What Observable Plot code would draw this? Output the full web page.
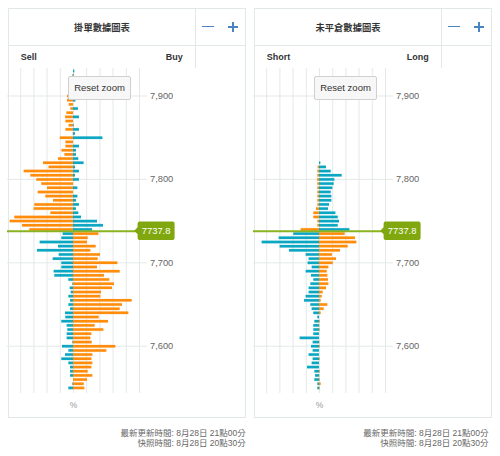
<!DOCTYPE html>
<html><head><meta charset="utf-8">
<script src="https://cdn.jsdelivr.net/npm/d3@7"></script>
<script src="https://cdn.jsdelivr.net/npm/@observablehq/plot@0.6"></script>
<style>
body{margin:0;width:500px;height:456px;background:#fff;position:relative;overflow:hidden;font-family:"Liberation Sans",Arial,"Noto Sans CJK TC",sans-serif;}
.box{position:absolute;border:1px solid #e2e8e6;box-sizing:border-box;}
.hl{position:absolute;height:1px;background:#e2e8e6;}
.vl{position:absolute;width:1px;background:#e2e8e6;}
.title{position:absolute;font-size:9.3px;font-weight:bold;color:#333;text-align:center;line-height:12px;font-family:"Noto Sans CJK TC","Liberation Sans",sans-serif;}
.side{position:absolute;font-size:9px;font-weight:bold;color:#333;line-height:12px;white-space:nowrap;}
.btn{position:absolute;width:63px;height:24px;box-sizing:border-box;border:1px solid #d0d0d0;background:#f7f7f7;border-radius:2px;font-size:9.5px;color:#333;text-align:center;line-height:22px;}
.pct{position:absolute;width:20px;text-align:center;font-size:8.5px;color:#999;line-height:10px;}
.foot{position:absolute;font-size:8.5px;color:#666;text-align:right;line-height:10px;white-space:nowrap;font-family:"Liberation Sans","Noto Sans CJK TC",sans-serif;}
.icon{position:absolute;background:#4a84c1;}
.chart{position:absolute;top:60px;}
</style></head><body>
<script>
// ---- data ----
const currentPrice = 7737.8;
const yTicks = [7600, 7700, 7800, 7900];
const xGridTicks = [-0.8, -0.6, -0.4, -0.2, 0, 0.2, 0.4, 0.6, 0.8, 1.0];

// Order book (掛單): price levels, sell side (left) and buy side (right), %
const orderPrices = [7930,7925,7920,7915,7910,7905,7900,7895,7890,7885,7880,7875,7870,7865,7860,7855,7850,7845,7840,7835,7830,7825,7820,7815,7810,7805,7800,7795,7790,7785,7780,7775,7770,7765,7760,7755,7750,7745,7740,7735,7730,7725,7720,7715,7710,7705,7700,7695,7690,7685,7680,7675,7670,7665,7660,7655,7650,7645,7640,7635,7630,7625,7620,7615,7610,7605,7600,7595,7590,7585,7580,7575,7570,7565,7560,7555,7550];
const orderSell = [0,0.01,0.02,0.02,0.03,0.02,0.09,0.09,0.065,0.04,0.1,0.12,0.115,0.065,0.115,0.005,0.2,0.115,0.115,0.175,0.13,0.227,0.455,0.37,0.747,0.646,0.556,0.48,0.394,0.535,0.419,0.303,0.586,0.596,0.343,0.889,0.96,0.773,0.662,0.157,0.177,0.505,0.227,0.545,0.217,0.308,0.177,0.177,0.293,0.283,0.07,0.01,0.05,0.035,0.07,0.045,0.07,0.045,0.121,0.116,0.177,0.096,0.086,0.096,0.096,0.01,0.167,0.07,0.121,0.177,0.07,0.045,0.045,0.045,0,0.01,0.07];
const orderBuy = [0.02,0.01,0.01,0,0.01,0.02,0.02,0.035,0,0.075,0,0.09,0,0.01,0.09,0.03,0.445,0,0.09,0.045,0.045,0.08,0.16,0.03,0.09,0.03,0.09,0,0.066,0,0.066,0.045,0.09,0.045,0.08,0.121,0.364,0.455,0.288,0.384,0.222,0.212,0.343,0.263,0.409,0.374,0.672,0.364,0.707,0.47,0.55,0.621,0.59,0.424,0.414,0.889,0.742,0.707,0.838,0.389,0.53,0.328,0.46,0.278,0.263,0.283,0.641,0.505,0.293,0.278,0.293,0.278,0.222,0.293,0.212,0.162,0.172];

// Open positions (未平倉): price levels, short (left) and long (right), %
const positionPrices = [7820,7815,7810,7805,7800,7795,7790,7785,7780,7775,7770,7765,7760,7755,7750,7745,7740,7735,7730,7725,7720,7715,7710,7705,7700,7695,7690,7685,7680,7675,7670,7665,7660,7655,7650,7645,7640,7635,7630,7625,7620,7615,7610,7605,7600,7595,7590,7585,7580,7575,7570,7565,7560,7555,7550];
const positionShort = [0,0.02,0.025,0.025,0.03,0.025,0.025,0.025,0.025,0.025,0.025,0.045,0.086,0.086,0.025,0.025,0.278,0.389,0.611,0.869,0.596,0.455,0.202,0.157,0.172,0.111,0.202,0.121,0.086,0.131,0.157,0.157,0.202,0.227,0.131,0.111,0.086,0.025,0.07,0.086,0.086,0.086,0.293,0.096,0.121,0.096,0.157,0.096,0.111,0.182,0.07,0.06,0.07,0.025,0.025];
const positionLong = [0.02,0.106,0.177,0.343,0.232,0.222,0.202,0.177,0.187,0.187,0.152,0.136,0.248,0.283,0.303,0.283,0.46,0.389,0.545,0.566,0.434,0.318,0.197,0.258,0.207,0.141,0.116,0.126,0.136,0.141,0.106,0.055,0.04,0.025,0.126,0.07,0.025,0,0.01,0.005,0.01,0,0,0.005,0.01,0,0,0.01,0,0,0.01,0.005,0.01,0.025,0.01];

const panels = [
  {title: "掛單數據圖表", left: "Sell", right: "Buy", prices: orderPrices, lv: orderSell, rv: orderBuy},
  {title: "未平倉數據圖表", left: "Short", right: "Long", prices: positionPrices, lv: positionShort, rv: positionLong}
];
const footer1 = "最新更新時間: 8月28日 21點00分";
const footer2 = "快照時間: 8月28日 20點30分";

// ---- style ----
const ORANGE = "#ff8c0a", TEAL = "#0aa6c2", GRID = "#e4e9e8", LINE = "#8ab321", LABEL = "#80a80e";

function el(cls, css, text) {
  const d = document.createElement("div");
  d.className = cls;
  Object.assign(d.style, css);
  if (text != null) d.textContent = text;
  document.body.appendChild(d);
  return d;
}

panels.forEach((p, pi) => {
  const ox = pi * 246;
  el("box", {left: (8+ox)+"px", top: "8px", width: "238px", height: "410px"});
  el("hl", {left: (8+ox)+"px", top: "45px", width: "238px"});
  el("vl", {left: (195+ox)+"px", top: "8px", height: "60px"});
  el("title", {left: (9+ox)+"px", top: "20.7px", width: "186px"}, p.title);
  el("icon", {left: (202+ox)+"px", top: "25.5px", width: "12px", height: "1.6px"});
  el("icon", {left: (227.7+ox)+"px", top: "26.2px", width: "10.6px", height: "1.6px"});
  el("icon", {left: (232.2+ox)+"px", top: "21.7px", width: "1.6px", height: "10.6px"});
  el("side", {left: (20.7+ox)+"px", top: "50.7px"}, p.left);
  el("side", {right: (500-182.7-ox)+"px", top: "50.7px"}, p.right);

  const rows = [];
  p.prices.forEach((price, i) => {
    const above = price > currentPrice;
    rows.push({price, v: -p.lv[i], c: above ? ORANGE : TEAL});
    rows.push({price, v: p.rv[i], c: above ? TEAL : ORANGE});
  });

  const chart = Plot.plot({
    width: 238, height: 338,
    marginLeft: 0, marginRight: 106, marginTop: 8, marginBottom: 5,
    x: {domain: [-1, 1], axis: null},
    y: {domain: [7543.3, 7933], axis: null},
    color: {type: "identity"},
    style: {background: "transparent", fontFamily: "Liberation Sans, Arial, sans-serif", fontSize: "9.3px", overflow: "visible"},
    marks: [
      Plot.gridX(xGridTicks, {stroke: GRID, strokeOpacity: 1}),
      Plot.gridY(yTicks, {stroke: GRID, strokeOpacity: 1}),
      Plot.axisY(yTicks, {anchor: "right", tickSize: 7, tickPadding: 3.5, tickFormat: d3.format(","), stroke: GRID, strokeOpacity: 1, fill: "#666", fontSize: 9.3, label: null}),
      Plot.ruleY(rows, {y: "price", x1: 0, x2: "v", stroke: "c", strokeWidth: 3.4, strokeOpacity: 0.22}),
      Plot.ruleY(rows, {y: "price", x1: 0, x2: "v", stroke: "c", strokeWidth: 2.5}),
      Plot.ruleY([currentPrice], {stroke: LINE, strokeWidth: 2})
    ]
  });

  // current price label, positioned through the plot's own scales
  const ys = chart.scale("y").apply(currentPrice);
  const xr = chart.scale("x").apply(1);
  const tip = xr - 4.7, L = xr - 1.4, R = xr + 35.6, h = 9.2, r = 2;
  const g = d3.select(chart).append("g");
  g.append("path")
    .attr("fill", LABEL)
    .attr("d", `M${tip},${ys} L${L},${ys-3.5} L${L},${ys-h+r} Q${L},${ys-h} ${L+r},${ys-h} L${R-r},${ys-h} Q${R},${ys-h} ${R},${ys-h+r} L${R},${ys+h-r} Q${R},${ys+h} ${R-r},${ys+h} L${L+r},${ys+h} Q${L},${ys+h} ${L},${ys+h-r} L${L},${ys+3.5} Z`);
  g.append("text")
    .attr("x", (L+R)/2).attr("y", ys).attr("dy", "0.35em")
    .attr("text-anchor", "middle").attr("fill", "#fff")
    .attr("font-size", "9.4px")
    .text(String(currentPrice));

  const wrap = el("chart", {left: (6.7 + pi*246.6)+"px"});
  wrap.appendChild(chart);

  el("btn", {left: (68+ox)+"px", top: "76px"}, "Reset zoom");
  el("pct", {left: (63.5+ox)+"px", top: "400px"}, "%");
});

el("foot", {right: (500-245.7)+"px", top: "427.7px"}, footer1);
el("foot", {right: (500-245.7)+"px", top: "437.7px"}, footer2);
el("foot", {right: (500-488.5)+"px", top: "427.7px"}, footer1);
el("foot", {right: (500-488.5)+"px", top: "437.7px"}, footer2);
</script>
</body></html>
